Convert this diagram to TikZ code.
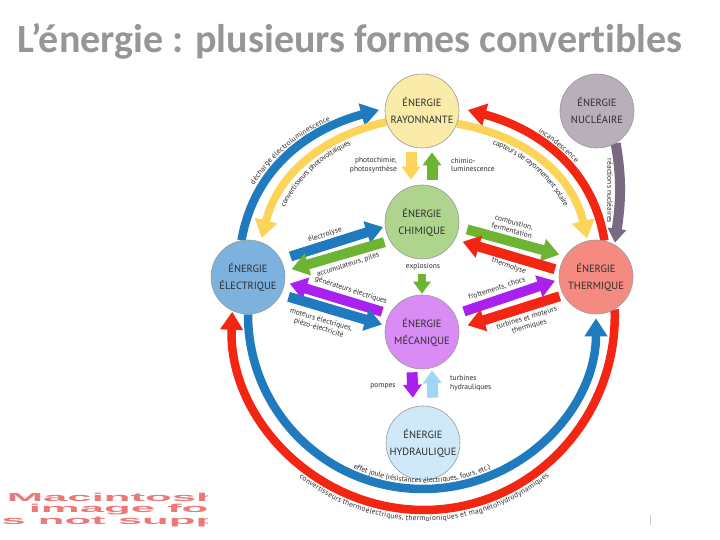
\documentclass[tikz,border=0pt]{standalone}
\usepackage{fontspec}
\setmainfont{PT Sans}
\newfontfamily\titlefont[Ligatures={NoCommon}]{Carlito}
\newfontfamily\macfont{Liberation Sans}
\usetikzlibrary{arrows.meta,decorations.text}
\definecolor{cBlue}{RGB}{31,122,190}
\definecolor{cYel}{RGB}{252,212,90}
\definecolor{cRed}{RGB}{242,38,18}
\definecolor{cGreen}{RGB}{108,180,50}
\definecolor{cPurp}{RGB}{170,32,240}
\definecolor{cLBlue}{RGB}{158,214,245}
\definecolor{cNucA}{RGB}{122,106,128}
\definecolor{fRay}{RGB}{251,235,168}
\definecolor{fNuc}{RGB}{184,175,186}
\definecolor{fChi}{RGB}{174,212,142}
\definecolor{fEle}{RGB}{125,178,222}
\definecolor{fThe}{RGB}{244,138,128}
\definecolor{fMec}{RGB}{216,140,244}
\definecolor{fHyd}{RGB}{207,233,249}
\definecolor{txt}{RGB}{45,45,45}
\definecolor{ttl}{RGB}{150,150,150}
\definecolor{macred}{RGB}{236,120,120}
\newcommand\lblfont{\fontsize{7.5}{8.5}\selectfont}
\pgfdeclarelayer{arrowlayer}
\pgfsetlayers{arrowlayer,main}
\begin{document}
\begin{tikzpicture}[x=1pt,y=1pt,
  energy/.style={circle, draw=gray!80, line width=0.6pt, minimum size=74pt, inner sep=0pt, align=center, font=\fontsize{10.5}{17}\selectfont, text=txt},
  lbl/.style={font=\lblfont, text=txt, inner sep=0pt, align=center},
  arcarrow/.style={line width=8.5pt, -{Triangle[width=22pt,length=18pt]}},
  bigarrow/.style={line width=10pt, -{Triangle[width=22pt,length=17pt]}},
  vertarrow/.style={line width=11pt, -{Triangle[width=18pt,length=13pt]}},
  arclabel/.style={decorate, decoration={text along path, text align=center, text color=txt}},
  macstyle/.style={font=\macfont\bfseries\fontsize{11.5}{11.5}\selectfont, text=macred, anchor=base west, xscale=3.8, inner sep=0pt},
]
\useasboundingbox (0,0) rectangle (720,540);

% title
\node[font=\titlefont\bfseries\fontsize{40}{40}\selectfont, text=ttl, anchor=base, inner sep=0pt] (title) at (350,487) {L’énergie : plusieurs formes convertibles};

% energy nodes
\node[energy, fill=fRay] (ray) at (422,429) {ÉNERGIE\\RAYONNANTE};
\node[energy, fill=fNuc] (nuc) at (597,429) {ÉNERGIE\\NUCLÉAIRE};
\node[energy, fill=fChi] (chi) at (422,318) {ÉNERGIE\\CHIMIQUE};
\node[energy, fill=fEle] (ele) at (248,263) {ÉNERGIE\\ÉLECTRIQUE};
\node[energy, fill=fThe] (the) at (596,263) {ÉNERGIE\\THERMIQUE};
\node[energy, fill=fMec] (mec) at (422,208) {ÉNERGIE\\MÉCANIQUE};
\node[energy, fill=fHyd] (hyd) at (423,97) {ÉNERGIE\\HYDRAULIQUE};

\coordinate (bb) at (423,51);
\coordinate (rb) at (424,30);

\begin{pgfonlayer}{arrowlayer}
\fill[white] (0,0) rectangle (720,540);
% outer arcs
\draw[arcarrow, draw=cBlue, shorten >=6pt] (ele.100) to[out=80,in=195] (ray.176);
\draw[arcarrow, line width=8pt, draw=cYel, shorten >=4pt] (ray.197) to[out=193,in=76] (ele.70);
\draw[arcarrow, draw=cRed, shorten >=9pt] (the.77) to[out=99,in=345] (ray.5);
\draw[arcarrow, line width=8pt, draw=cYel, shorten >=2pt] (ray.340) to[out=-10,in=103] (the.103);
\draw[line width=10pt, draw=cNucA, -{Triangle[width=18pt,length=14pt]}, shorten >=2pt] (nuc.300) to[out=-80,in=82] (the.60);
\draw[arcarrow, draw=cBlue, shorten >=4pt] (ele.south) to[out=-90,in=180] (bb) to[out=0,in=-90] (the.south);
\draw[arcarrow, draw=cRed, shorten >=1pt] (the.300) to[out=-88,in=0] (rb) to[out=180,in=-92] (ele.245);

% vertical arrows
\draw[vertarrow, draw=cYel, shorten <=4pt, shorten >=5pt] ([xshift=-11pt]ray.south) -- ([xshift=-11pt]chi.north);
\draw[vertarrow, draw=cGreen, shorten <=5pt, shorten >=4pt] ([xshift=10pt]chi.north) -- ([xshift=10pt]ray.south);
\draw[line width=8pt, draw=cGreen, -{Triangle[width=17pt,length=12pt]}, shorten <=15pt, shorten >=1pt] (chi.south) -- (mec.north);
\draw[vertarrow, draw=cPurp, shorten <=3pt, shorten >=8pt] ([xshift=-10pt]mec.south) -- ([xshift=-10pt]hyd.north);
\draw[vertarrow, draw=cLBlue, shorten <=8pt, shorten >=1pt] ([xshift=10pt]hyd.north) -- ([xshift=10pt]mec.south);

% diagonal arrows
\draw[bigarrow, draw=cBlue, shorten <=10pt, shorten >=2pt] (ele.28) -- (chi.187);
\draw[bigarrow, draw=cGreen, shorten <=5.5pt, shorten >=7pt] (chi.210) -- (ele.9);
\draw[bigarrow, draw=cPurp, shorten <=7.5pt, shorten >=5pt] (mec.151) -- (ele.352);
\draw[bigarrow, draw=cBlue, shorten <=8pt, shorten >=3.5pt] (ele.332) -- (mec.170);
\draw[bigarrow, draw=cGreen, shorten <=8.5pt, shorten >=6pt] (chi.352) -- (the.146);
\draw[bigarrow, draw=cRed, shorten <=4.5pt, shorten >=8pt] (the.170) -- (chi.332);
\draw[bigarrow, draw=cPurp, shorten <=9.5pt, shorten >=4pt] (mec.28) -- (the.184);
\draw[bigarrow, draw=cRed, shorten <=4pt, shorten >=9pt] (the.209) -- (mec.6);
\end{pgfonlayer}

% curved labels
\path[arclabel, decoration={raise=7pt, text={|\lblfont|décharge électroluminescence}}] (ele.100) to[out=80,in=195] (ray.176);
\path[arclabel, decoration={raise=-10.5pt, text={|\lblfont|convertisseurs photovoltaïques}}] (ele.70) to[out=76,in=193] (ray.197);
\path[arclabel, decoration={raise=7pt, text={|\lblfont|incandescence}}] (ray.5) to[out=345,in=99] (the.77);
\path[arclabel, decoration={raise=-10.5pt, text={|\lblfont|capteurs de rayonnement solaire}}] (ray.340) to[out=-10,in=103] (the.103);
\path[arclabel, decoration={raise=6pt, text={|\lblfont|effet joule (résistances électriques, fours, etc.)}}] (ele.south) to[out=-90,in=180] (bb) to[out=0,in=-90] (the.south);
\path[arclabel, decoration={raise=-11pt, text={|\lblfont|convertisseurs thermoélectriques, thermoïoniques et magnétohydrodynamiques}}] (ele.245) to[out=-92,in=180] (rb) to[out=0,in=-88] (the.300);

% straight labels
\node[lbl, rotate=-90] (lnuc) at (610,349) {réactions nucléaires};
\node[lbl, anchor=east, align=right] (lphot) at (397,375) {photochimie,\\photosynthèse};
\node[lbl, anchor=west, align=left] (lchim) at (451,375) {chimio-\\luminescence};
\node[lbl] (lexpl) at (423,273) {explosions};
\node[lbl, rotate=17] (lelec) at (325,305) {électrolyse};
\node[lbl, rotate=18] (laccu) at (348,275) {accumulateurs, piles};
\node[lbl, rotate=-18] (lgen) at (351,249.5) {générateurs électriques};
\node[lbl, rotate=-17] (lmot) at (320,216) {moteurs électriques,\\piézo-électricité};
\node[lbl, rotate=-15] (lcomb) at (513,313.5) {combustion,\\fermentation};
\node[lbl, rotate=-19] (lthl) at (509,274) {thermolyse};
\node[lbl, rotate=18] (lfrot) at (497,251.5) {frottements, chocs};
\node[lbl, rotate=17] (lturb) at (528,217.5) {turbines et moteurs\\thermiques};
\node[lbl] (lpomp) at (383,154) {pompes};
\node[lbl, anchor=west, align=left] (lhydr) at (450,157) {turbines\\hydrauliques};

% placeholder text bottom-left
\begin{scope}
\clip (0,0) rectangle (207,60);
\node[macstyle] (mac1) at (6,38) {Macintosh PICT};
\node[macstyle] (mac2) at (28,27) {image format};
\node[macstyle] (mac3) at (-11.5,15) {is not supported};
\end{scope}
\draw[gray!40, line width=1pt] (650,15) -- (650,25);
\end{tikzpicture}
\end{document}
